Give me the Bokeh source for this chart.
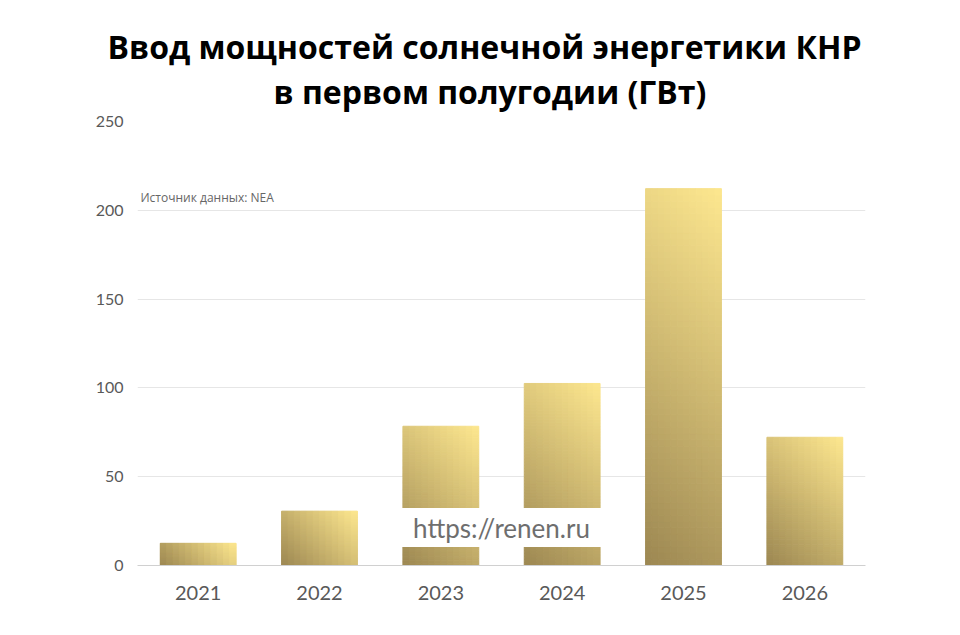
import numpy as np
from bokeh.plotting import figure
from bokeh.models import Title, FixedTicker, Range1d, Label, ColumnDataSource
from bokeh.embed import file_html
from bokeh.resources import INLINE

years = ["2021", "2022", "2023", "2024", "2025", "2026"]
values = [12.5, 30.6, 78.4, 102.5, 212.2, 72.2]
y_ticks = [0, 50, 100, 150, 200, 250]
title_lines = ["Ввод мощностей солнечной энергетики КНР", "в первом полугодии (ГВт)"]
source_note = "Источник данных: NEA"
watermark = "https://renen.ru"

DARK = np.array([0x9c, 0x87, 0x52])
LIGHT = np.array([0xfd, 0xe7, 0x8f])
BAR_W = 0.625
BAR_PX = 76.0      # bar width in pixels (for 45-degree gradient)
PX_PER_UNIT = 1.776

p = figure(width=944, height=619, x_range=years, y_range=Range1d(0, 250),
           output_backend="svg", toolbar_location=None,
           min_border_left=137, min_border_right=79, min_border_bottom=54,
           min_border_top=121)
p.title = None

# gradient bars built from the data as a grid of cells (45 deg linear gradient)
nx, ny = 12, 60
lefts, rights, bottoms, tops, colors = [], [], [], [], []
for i, (yr, v) in enumerate(zip(years, values)):
    hpx = v * PX_PER_UNIT
    for j in range(nx):
        for k in range(ny):
            fx0, fx1 = j / nx, (j + 1) / nx
            fy0, fy1 = k / ny, (k + 1) / ny
            t = ((j + 0.5) / nx * BAR_PX + (k + 0.5) / ny * hpx) / (BAR_PX + hpx)
            c = DARK + (LIGHT - DARK) * t
            lefts.append((yr, -BAR_W / 2 + fx0 * BAR_W))
            rights.append((yr, -BAR_W / 2 + fx1 * BAR_W))
            bottoms.append(v * fy0)
            tops.append(v * fy1)
            colors.append("#%02x%02x%02x" % tuple(int(round(x)) for x in c))
src = ColumnDataSource(dict(left=lefts, right=rights, bottom=bottoms, top=tops, color=colors))
p.quad(left="left", right="right", bottom="bottom", top="top", fill_color="color",
       line_color="color", line_width=1.0, source=src)

# axes styling
p.yaxis.ticker = FixedTicker(ticks=y_ticks)
p.yaxis.axis_line_color = None
p.yaxis.major_tick_line_color = None
p.yaxis.minor_tick_line_color = None
p.yaxis.major_label_text_font = "Lato"
p.yaxis.major_label_text_font_size = "16px"
p.yaxis.major_label_text_color = "#595959"
p.yaxis.major_label_standoff = 8

p.xaxis.axis_line_color = "#d0d0d0"
p.xaxis.major_tick_line_color = None
p.xaxis.minor_tick_line_color = None
p.xaxis.major_label_text_font = "Lato"
p.xaxis.major_label_text_font_size = "20px"
p.xaxis.major_label_text_color = "#595959"
p.xaxis.major_label_standoff = 14

p.xgrid.grid_line_color = None
p.ygrid.grid_line_color = "#e6e6e6"
p.ygrid.ticker = FixedTicker(ticks=y_ticks)
p.outline_line_color = None
p.x_range.range_padding = 0

# source note
p.add_layout(Label(x=3, y=207, x_units="screen", text=source_note,
                   text_font="Open Sans", text_font_size="12px", text_color="#666666",
                   text_baseline="middle"))

# watermark with white background
p.add_layout(Label(x=3.0, y=21.4, text=watermark,
                   text_font="Lato", text_font_size="26px", text_color="#6e6e6e",
                   text_align="center", text_baseline="middle",
                   background_fill_color="white", background_fill_alpha=1.0,
                   padding=dict(left=14, right=14, top=4, bottom=3)))

# title (two lines, left-aligned with offsets) + spacer
p.add_layout(Title(text=" ", text_font_size="7px", standoff=0), "above")
for line, off in reversed(list(zip(title_lines, [-30, 136]))):
    p.add_layout(Title(text=line, align="left", text_font="Open Sans",
                       text_font_size="32px", text_font_style="bold",
                       text_color="#000000", standoff=0, offset=off,
                       text_line_height=0.85), "above")

open("out.html", "w").write(file_html(p, INLINE))
